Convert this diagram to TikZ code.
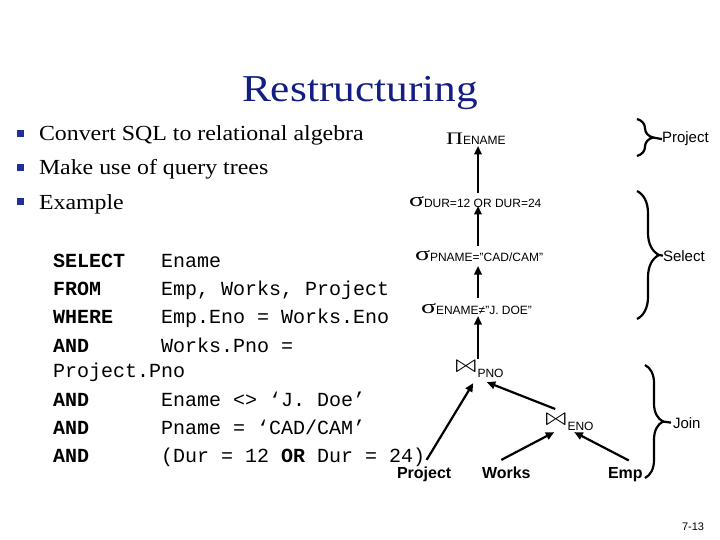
\documentclass[tikz,border=0pt]{standalone}
\usepackage{latexsym}
\usepackage{fontspec}
\setmainfont{Liberation Serif}
\setsansfont{Liberation Sans}
\setmonofont{Liberation Mono}
\usetikzlibrary{arrows.meta,decorations.pathreplacing,calc}
\definecolor{ttlblue}{RGB}{20,30,130}
\definecolor{bulblue}{RGB}{30,50,150}
\newcommand\mysig{\resizebox{15pt}{10pt}{σ}}
\newcommand\mypi{\resizebox{17pt}{11.5pt}{Π}}
\newcommand\myjoin{\resizebox{23.5pt}{9.5pt}{$\Join$}}
\newcommand\mysub[2]{\raisebox{-#1}{\fontsize{12}{12}\sffamily #2}}
\begin{document}
\begin{tikzpicture}[x=1pt,y=-1pt,
  txt/.style={anchor=base west, inner sep=0pt, outer sep=0pt},
  code/.style={txt, font=\fontsize{20}{20}\ttfamily\frenchspacing},
  kw/.style={txt, font=\fontsize{20}{20}\ttfamily\bfseries},
  arr/.style={line width=2.2pt, -{Triangle[length=8.5pt,width=7.5pt]}},
  brc/.style={line width=2.2pt, decorate, decoration={brace, amplitude=#1}},
  lbl/.style={txt, font=\fontsize{15}{15}\sffamily},
  leaf/.style={txt, font=\fontsize{16}{16}\sffamily\bfseries},
  bul/.style={fill=bulblue, minimum size=7pt, inner sep=0pt},
  btxt/.style={txt, font=\fontsize{21.5}{21.5}\selectfont}]
\useasboundingbox (0,0) rectangle (720,540);
\fill[white] (0,0) rectangle (720,540);
% title
\node[inner sep=0pt, anchor=base, text=ttlblue] (title) at (360,102)
  {\fontsize{38}{38}\selectfont\scalebox{1.14}[1]{Restructuring}};
% bullets
\node[bul] (b1) at (20.5,133.5) {};
\node[bul] (b2) at (20.5,167.5) {};
\node[bul] (b3) at (20.5,202) {};
\node[btxt] (t1) at (39,140.5) {\scalebox{1.11}[1]{Convert SQL to relational algebra}};
\node[btxt] (t2) at (39,175) {\scalebox{1.11}[1]{Make use of query trees}};
\node[btxt] (t3) at (39,210) {\scalebox{1.11}[1]{Example}};
% SQL code
\node[kw] (k1) at (53,267) {SELECT};
\node[code] (c1) at (161,267) {Ename};
\node[kw] (k2) at (53,295) {FROM};
\node[code] (c2) at (161,295) {Emp, Works, Project};
\node[kw] (k3) at (53,323) {WHERE};
\node[code] (c3) at (161,323) {Emp.Eno = Works.Eno};
\node[kw] (k4) at (53,352) {AND};
\node[code] (c4) at (161,352) {Works.Pno =};
\node[code] (c4b) at (53,377) {Project.Pno};
\node[kw] (k5) at (53,406) {AND};
\node[code] (c5) at (161,406) {Ename <> ‘J. Doe’};
\node[kw] (k6) at (53,434) {AND};
\node[code] (c6) at (161,434) {Pname = ‘CAD/CAM’};
\node[kw] (k7) at (53,462) {AND};
\node[code] (c7) at (161,462) {(Dur = 12 \textbf{OR} Dur = 24)};
% tree
\coordinate (ax) at (478,0);
\node[txt] (pi) at (446,145) {\mypi\mysub{0pt}{ENAME}};
\node[txt] (sdur) at (409,207) {\mysig\mysub{1pt}{DUR=12 OR DUR=24}};
\node[txt] (spname) at (415,261) {\mysig\mysub{1pt}{PNAME="CAD/CAM"}};
\node[txt] (sename) at (421,313) {\mysig\mysub{1pt}{ENAME≠"J. DOE"}};
\node[txt] (jpno) at (454,373) {\myjoin\mysub{4pt}{PNO}};
\node[txt] (jeno) at (544,426) {\myjoin\mysub{4pt}{ENO}};
\node[leaf] (lproj) at (397,478) {Project};
\node[leaf] (lworks) at (482,478) {Works};
\node[leaf] (lemp) at (608,478) {Emp};
\draw[arr] ($(sdur.north -| ax)+(0,-4)$) -- ($(pi.base -| ax)+(0,1)$);
\draw[arr] ($(spname.north -| ax)+(0,-5)$) -- ($(sdur.base -| ax)+(0,-1)$);
\draw[arr] ($(sename.north -| ax)+(0,-5)$) -- ($(spname.base -| ax)+(0,5)$);
\draw[arr] ($(jpno.north -| ax)+(0,-4.5)$) -- ($(sename.base -| ax)+(0,3)$);
\draw[arr] ($(lproj.north)+(2.5,-6.5)$) -- ($(jpno.south)+(-5.5,6)$);
\draw[arr] ($(jeno.north)+(-13.5,-7.5)$) -- ($(jpno.south)+(8,5)$);
\draw[arr] ($(lworks.north)+(-5,-6.5)$) -- ($(jeno.south)+(-14.5,2)$);
\draw[arr] ($(lemp.north)+(3.5,-6.5)$) -- ($(jeno.south)+(5.5,2)$);
% braces and labels
\draw[brc=16pt] (637,119) -- (637,156);
\coordinate (bp) at (653,137.5);
\node[lbl] (lp) at (662,143) {Project};
\draw[line width=2.2pt] (bp) -- (lp.west);
\draw[brc=22pt] (637,191) -- (637,319);
\coordinate (bs) at (659,255);
\node[lbl] (ls) at (663,261) {Select};
\draw[line width=2.2pt] (bs) -- (ls.west);
\draw[brc=18pt] (645,365) -- (645,478);
\coordinate (bj) at (663,421.5);
\node[lbl] (lj) at (673,428) {Join};
\draw[line width=2.2pt] (bj) -- ($(lj.west)+(-2,0)$);
% page number
\node[txt, font=\fontsize{11}{11}\sffamily] (pg) at (682,530) {7-13};
\end{tikzpicture}
\end{document}
